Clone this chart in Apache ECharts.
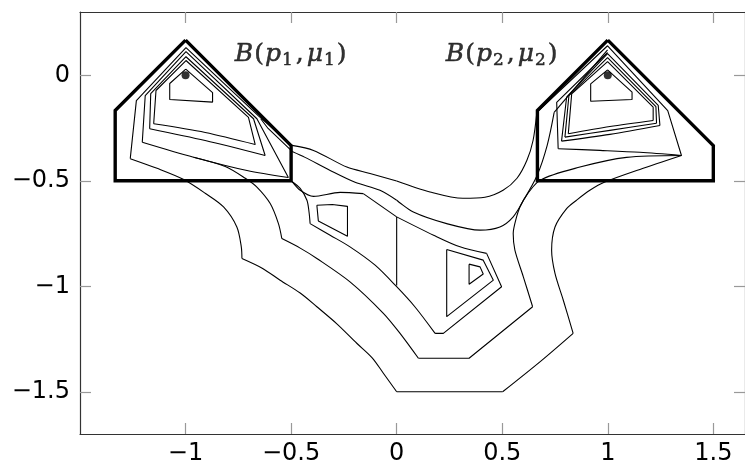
<!DOCTYPE html>
<html><head><meta charset="utf-8">
<script src="https://cdn.jsdelivr.net/npm/echarts@6/dist/echarts.min.js"></script>
<style>html,body{margin:0;padding:0;background:#fff}#c{width:745px;height:467px}</style>
</head><body><div id="c"></div>
<script>
// axis ticks and annotations
const xTicks=[-1,-0.5,0,0.5,1,1.5];
const yTicks=[-1.5,-1,-0.5,0];
const centers=[[-1,0],[1,0]];
const labelPos=[[-0.5,0.1],[0.5,0.1]];
const labelIdx=['1','2'];
// the two balls B(p_i, mu_i)
const ballLeft=[[-1,0.1667],[-1.3333,-0.1667],[-1.3333,-0.5],[-0.5,-0.5],[-0.5,-0.3333],[-1,0.1667]];
const ballRight=[[1,0.1667],[0.6667,-0.1667],[0.6667,-0.5],[1.5,-0.5],[1.5,-0.3333],[1,0.1667]];
// contour pieces with straight edges
const loopL1=[[-0.999,0.029],[-1.075,-0.039],[-1.075,-0.115],[-0.872,-0.127],[-0.872,-0.082],[-0.999,0.029]];
const loopL2=[[-0.670,-0.328],[-0.702,-0.199],[-0.998,0.070],[-1.140,-0.072],[-1.151,-0.230]];
const loopL3=[[-0.623,-0.380],[-0.678,-0.206],[-0.998,0.088],[-1.165,-0.087],[-1.170,-0.253]];
const loopL4=[[-0.513,-0.484],[-0.662,-0.206],[-0.998,0.112],[-1.191,-0.096],[-1.205,-0.317]];
const loopR1=[[0.999,0.026],[0.919,-0.041],[0.919,-0.123],[1.115,-0.115],[1.115,-0.080],[0.999,0.026]];
const loopR2=[[0.813,-0.277],[0.829,-0.088],[0.999,0.065],[1.215,-0.151],[1.215,-0.214]];
const loopR3=[[0.797,-0.293],[0.816,-0.096],[0.999,0.084],[1.228,-0.148],[1.231,-0.227]];
const loopR4=[[0.781,-0.312],[0.805,-0.104],[0.999,0.103],[1.239,-0.143],[1.247,-0.238]];
const loopR5=[[0.765,-0.348],[0.758,-0.128],[0.999,0.108]];
const outerEdge=[[-0.496,-0.332],[-0.656,-0.191],[-0.998,0.131],[-1.233,-0.120],[-1.262,-0.395]];
const outerBase=[[0,-1.5],[0.502,-1.5]];
const outerEdgeR=[[1.349,-0.380],[1.284,-0.167],[0.999,0.140],[0.664,-0.176]];
const secondBase=[[0.103,-1.341],[0.343,-1.341],[0.644,-1.097]];
const secondEdge=[[-0.495,-0.361],[-0.609,-0.252],[-0.644,-0.206]];
const secondEdgeR=[[0.746,-0.176],[0.999,0.120]];
const middleBase=[[0.182,-1.223],[0.221,-1.223],[0.497,-1.002],[0.426,-0.844]];
const middleKink=[[0,-0.671],[-0.158,-0.561]];
const centreCut=[[0,-0.671],[0,-0.996]];
const quadLoop=[[-0.378,-0.616],[-0.305,-0.612],[-0.233,-0.621],[-0.233,-0.763],[-0.371,-0.690],[-0.378,-0.616]];
const triOuter=[[0.237,-0.826],[0.410,-0.876],[0.458,-0.971],[0.237,-1.144],[0.237,-0.826]];
const triInner=[[0.343,-0.895],[0.395,-0.908],[0.410,-0.942],[0.343,-0.990],[0.343,-0.895]];
// contour pieces that are curved
const loopL2Base=[[-1.151,-0.230],[-0.907,-0.271],[-0.670,-0.328]];
const loopL3Base=[[-1.170,-0.253],[-0.907,-0.309],[-0.623,-0.380]];
const loopL4Base=[[-1.205,-0.317],[-0.962,-0.388],[-0.709,-0.451],[-0.513,-0.484]];
const loopR2Base=[[0.813,-0.277],[1.010,-0.243],[1.215,-0.214]];
const loopR3Base=[[0.797,-0.293],[1.010,-0.261],[1.231,-0.227]];
const loopR4Base=[[0.781,-0.312],[1.010,-0.280],[1.247,-0.238]];
const loopR5Base=[[0.765,-0.348],[0.963,-0.356],[1.152,-0.365],[1.349,-0.380]];
const outerArcA=[[-1.262,-0.395],[-1.135,-0.441],[-1.011,-0.493],[-0.907,-0.559],[-0.820,-0.624],[-0.757,-0.719],[-0.736,-0.813],[-0.733,-0.868]];
const outerArcB=[[-0.733,-0.868],[-0.637,-0.914],[-0.552,-0.971],[-0.457,-1.032],[-0.378,-1.097],[-0.282,-1.179],[-0.189,-1.270],[-0.116,-1.339],[-0.063,-1.412],[0,-1.5]];
const outerArcC=[[0.502,-1.5],[0.680,-1.357],[0.836,-1.223]];
const outerArcD=[[0.836,-1.223],[0.789,-1.065],[0.750,-0.939],[0.734,-0.829],[0.750,-0.719],[0.805,-0.632],[0.852,-0.592],[0.915,-0.545],[0.986,-0.506],[1.152,-0.446],[1.349,-0.380]];
const outerTopR=[[0.664,-0.176],[0.646,-0.309],[0.617,-0.403],[0.570,-0.488],[0.504,-0.545],[0.418,-0.578],[0.314,-0.583],[0.158,-0.553],[0,-0.501]];
const outerTopL=[[0,-0.501],[-0.126,-0.465],[-0.236,-0.435],[-0.394,-0.356],[-0.496,-0.332]];
const secondArcA=[[-0.962,-0.388],[-0.812,-0.432],[-0.717,-0.488],[-0.662,-0.530],[-0.599,-0.608],[-0.560,-0.703],[-0.544,-0.774]];
const secondArcB=[[-0.544,-0.774],[-0.457,-0.819],[-0.378,-0.868],[-0.221,-0.979],[-0.063,-1.128],[0.016,-1.223],[0.103,-1.341]];
const secondArcC=[[0.644,-1.097],[0.600,-0.955],[0.560,-0.829],[0.552,-0.750],[0.568,-0.671],[0.584,-0.624],[0.603,-0.588]];
const secondTopR=[[0.603,-0.588],[0.552,-0.671],[0.489,-0.719],[0.395,-0.734],[0.237,-0.703],[0.079,-0.648],[0,-0.592]];
const secondTopL=[[0,-0.592],[-0.079,-0.545],[-0.197,-0.507],[-0.315,-0.451],[-0.434,-0.389],[-0.495,-0.361]];
const secondBaseR=[[1.349,-0.380],[1.089,-0.389],[0.868,-0.435],[0.679,-0.498],[0.603,-0.588]];
const secondSideR=[[0.603,-0.588],[0.665,-0.475],[0.713,-0.332],[0.746,-0.176]];
const middleArcA=[[-0.496,-0.503],[-0.457,-0.536],[-0.425,-0.592],[-0.415,-0.649],[-0.410,-0.703]];
const middleArcB=[[-0.410,-0.703],[-0.315,-0.758],[-0.221,-0.813],[-0.102,-0.900],[0,-1.002],[0.087,-1.098],[0.182,-1.223]];
const middleArcC=[[0.426,-0.844],[0.300,-0.813],[0.175,-0.758],[0,-0.671]];
const middleArcD=[[-0.158,-0.561],[-0.268,-0.555],[-0.394,-0.574],[-0.457,-0.545],[-0.496,-0.503]];

const straight=[loopL1,loopL2,loopL3,loopL4,loopR1,loopR2,loopR3,loopR4,loopR5,outerEdge,outerBase,outerEdgeR,secondBase,secondEdge,secondEdgeR,middleBase,middleKink,centreCut,quadLoop,triOuter,triInner];
const curved=[loopL2Base,loopL3Base,loopL4Base,loopR2Base,loopR3Base,loopR4Base,loopR5Base,outerArcA,outerArcB,outerArcC,outerArcD,outerTopR,outerTopL,secondArcA,secondArcB,secondArcC,secondTopR,secondTopL,secondBaseR,secondSideR,middleArcA,middleArcB,middleArcC,middleArcD];
const thick=[ballLeft,ballRight];

const chart=echarts.init(document.getElementById('c'),null,{renderer:'canvas'});
const fmt=v=>String(v).replace('-','\u2212');
const axisLine={show:true,onZero:false,lineStyle:{color:'#333',width:1.2}};
const tickStyle={color:'#999',width:1.2};
const series=[];
const base={type:'line',showSymbol:false,silent:true,animation:false,z:2};
straight.forEach(d=>series.push(Object.assign({},base,{data:d,lineStyle:{color:'#000',width:1.1}})));
curved.forEach(d=>series.push(Object.assign({},base,{data:d,smooth:0.3,lineStyle:{color:'#000',width:1.1}})));
thick.forEach(d=>series.push(Object.assign({},base,{data:d,z:3,lineStyle:{color:'#000',width:3.4,join:'miter'}})));
series.push({type:'scatter',data:centers,symbolSize:8,itemStyle:{color:'#000'},silent:true,animation:false,z:4});
const tb={textBorderColor:'#000',textBorderWidth:0.5,color:'#000'};
series.push({type:'scatter',data:labelPos.map((p,i)=>({value:p,idx:labelIdx[i]})),symbolSize:0,silent:true,animation:false,
  label:{show:true,position:'inside',formatter:p=>'{i|B}{n|(}{i|p}{s|'+p.data.idx+'}{c|,}{i|\u03bc}{s|'+p.data.idx+'}{n|)}',
    rich:{i:Object.assign({fontFamily:'DejaVu Serif',fontStyle:'italic',fontSize:25,lineHeight:30,padding:[0,1,0,0]},tb),
          n:Object.assign({fontFamily:'DejaVu Serif',fontSize:25,lineHeight:30,padding:[0,1,0,0]},tb),
          c:Object.assign({fontFamily:'DejaVu Serif',fontSize:25,lineHeight:30,padding:[0,3,0,1]},tb),
          s:Object.assign({fontFamily:'DejaVu Serif',fontSize:17,lineHeight:30,verticalAlign:'bottom',padding:[0,2,0,0]},tb)}}});
chart.setOption({
  animation:false,
  grid:{left:80,top:12,width:665,height:422,containLabel:false},
  xAxis:[{type:'value',min:-1.5,max:1.65,position:'bottom',axisLine:axisLine,splitLine:{show:false},
      axisTick:{inside:true,length:11,lineStyle:tickStyle,customValues:xTicks},
      axisLabel:{customValues:xTicks,formatter:fmt,fontFamily:'DejaVu Sans',fontSize:24,color:'#000',margin:8}},
    {type:'value',min:-1.5,max:1.65,position:'top',axisLine:axisLine,splitLine:{show:false},
      axisTick:{inside:true,length:11,lineStyle:tickStyle,customValues:xTicks},axisLabel:{show:false}}],
  yAxis:[{type:'value',min:-1.7,max:0.3,position:'left',axisLine:axisLine,splitLine:{show:false},
      axisTick:{inside:true,length:11,lineStyle:tickStyle,customValues:yTicks},
      axisLabel:{customValues:yTicks,formatter:fmt,fontFamily:'DejaVu Sans',fontSize:24,color:'#000',margin:10}},
    {type:'value',min:-1.7,max:0.3,position:'right',axisLine:axisLine,splitLine:{show:false},
      axisTick:{inside:true,length:11,lineStyle:tickStyle,customValues:yTicks},axisLabel:{show:false}}],
  series:series
});
</script></body></html>
